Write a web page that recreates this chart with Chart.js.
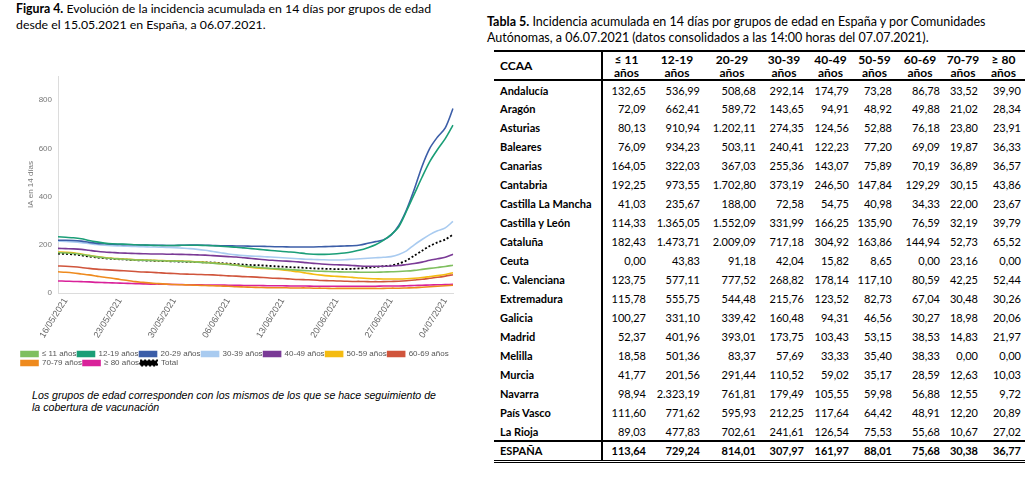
<!DOCTYPE html>
<html>
<head>
<meta charset="utf-8">
<script src="https://cdn.jsdelivr.net/npm/chart.js@4.4.1/dist/chart.umd.min.js"></script>
<style>
  body { margin:0; width:1029px; height:481px; background:#fff; position:relative; overflow:hidden; font-family:Lato, sans-serif; color:#000; }
  .fig-title { position:absolute; left:16px; top:1px; font-size:12.3px; line-height:16px; }
  .tab-title { position:absolute; left:487px; top:14px; font-size:12.5px; line-height:16px; }
  #chartBox { position:absolute; left:0; top:60px; width:470px; height:322px; }
  .note { position:absolute; left:32px; top:389px; font:italic 10.6px "Liberation Sans", Arial, sans-serif; line-height:12px; }
  table { position:absolute; left:494px; top:50px; border-collapse:collapse; table-layout:fixed; width:531px; font-size:11px; }
  table td, table th { padding:0; white-space:nowrap; }
  thead tr { height:29px; border-top:2px solid #000; border-bottom:2px solid #000; }
  thead th { font-weight:bold; text-align:center; line-height:13px; font-size:12px; }
  tbody tr { height:19px; }
  td.nom, th.nom { text-align:left; padding-left:6px; font-weight:bold; border-right:2px solid #000; }
  td.num { text-align:right; padding-right:4px; }
  tr.total { border-top:2px solid #000; border-bottom:3px double #000; height:20px; }
  tr.total td { font-weight:bold; }
</style>
</head>
<body>

<div class="fig-title"><b>Figura 4.</b> Evolución de la incidencia acumulada en 14 días por grupos de edad<br>desde el 15.05.2021 en España, a 06.07.2021.</div>
<div id="chartBox"><canvas id="myChart" width="470" height="322"></canvas></div>
<div class="note">Los grupos de edad corresponden con los mismos de los que se hace seguimiento de<br>la cobertura de vacunación</div>

<div class="tab-title"><b>Tabla 5.</b> Incidencia acumulada en 14 días por grupos de edad en España y por Comunidades<br>Autónomas, a 06.07.2021 (datos consolidados a las 14:00 horas del 07.07.2021).</div>
<table id="tabla"></table>

<script>
// fechas del grafico (15/05 al 05/07)
var fechas = ['15/05/2021','16/05/2021','17/05/2021','18/05/2021','19/05/2021','20/05/2021','21/05/2021',
  '22/05/2021','23/05/2021','24/05/2021','25/05/2021','26/05/2021','27/05/2021','28/05/2021',
  '29/05/2021','30/05/2021','31/05/2021','01/06/2021','02/06/2021','03/06/2021','04/06/2021',
  '05/06/2021','06/06/2021','07/06/2021','08/06/2021','09/06/2021','10/06/2021','11/06/2021',
  '12/06/2021','13/06/2021','14/06/2021','15/06/2021','16/06/2021','17/06/2021','18/06/2021',
  '19/06/2021','20/06/2021','21/06/2021','22/06/2021','23/06/2021','24/06/2021','25/06/2021',
  '26/06/2021','27/06/2021','28/06/2021','29/06/2021','30/06/2021','01/07/2021','02/07/2021',
  '03/07/2021','04/07/2021','05/07/2021'];

var grupos = ['≤ 11 años','12-19 años','20-29 años','30-39 años','40-49 años','50-59 años','60-69 años','70-79 años','≥ 80 años','Total'];
var colores = ['#7fbf5f','#1b9e77','#3c5ea8','#a9cbf0','#7a3a96','#f4bb12','#d0553c','#ee8a1e','#d9229a','#000000'];

var ia_11 = [167,166,164,160,155,150,146,143,141,139,137,136,135,134,133,132,131,130,128,126,124,121,118,115,112,109,106,103,101,99,97,95,93,91,90,89,88,87,87,86,86,86,87,88,89,91,94,98,102,106,110,115];
var ia_12_19 = [233,231,229,225,218,212,207,204,203,202,200,199,198,197,197,197,198,198,198,197,196,194,192,190,187,184,181,178,175,172,170,167,163,161,160,161,163,166,171,178,188,200,218,242,275,340,410,480,545,595,640,696];
var ia_20_29 = [219,219,218,215,210,206,204,202,201,200,200,199,198,198,197,197,198,199,199,198,197,196,196,195,195,194,194,193,192,192,191,191,191,191,192,193,194,195,196,199,206,213,220,240,280,345,430,525,600,647,685,765];
var ia_30_39 = [215,214,212,209,205,201,198,196,195,194,193,192,191,190,189,188,186,184,181,177,172,167,162,158,155,153,152,150,148,146,144,142,140,139,138,137,137,138,140,142,144,146,148,151,160,175,200,222,242,258,270,297];
var ia_40_49 = [185,184,183,181,177,173,170,168,166,165,164,163,162,162,161,161,160,159,158,157,155,153,151,149,146,143,140,137,135,133,131,129,126,123,120,118,117,116,114,112,111,111,111,112,114,118,122,128,136,142,148,161];
var ia_50_59 = [170,169,167,162,156,151,147,144,142,140,138,137,136,135,134,133,132,131,129,127,125,122,119,116,110,106,103,101,99,96,92,88,83,78,74,71,69,67,65,62,60,59,58,58,58,59,61,64,68,72,77,84];
var ia_60_69 = [112,111,109,106,102,99,97,95,93,91,89,87,86,84,82,81,79,78,77,76,75,73,71,70,68,67,65,63,61,60,58,56,55,54,52,51,50,49,48,48,47,47,47,48,49,51,54,57,61,65,70,76];
var ia_70_79 = [88,86,83,79,75,70,65,61,56,52,47,44,41,39,37,35,34,33,32,31,30,29,28,26,25,24,23,22,22,22,21,21,21,20,20,19,19,19,19,19,19,19,19,20,20,21,22,24,26,28,30,32];
var ia_80 = [50,49,48,47,46,44,43,42,41,40,39,38,37,37,36,35,35,34,34,33,33,33,32,32,31,31,31,30,30,30,29,29,29,28,28,28,28,28,28,28,28,28,29,29,29,30,31,32,33,34,35,36];
var ia_total = [163,162,160,156,151,147,144,142,140,138,136,135,134,133,132,131,130,129,128,127,126,124,122,120,118,116,115,113,111,109,107,106,104,102,101,100,99,99,100,102,105,108,111,114,122,135,155,175,195,210,222,242];

var yTicks = [0, 200, 400, 600, 800];

// tabla 5
var ccaa = ['Andalucía','Aragón','Asturias','Baleares','Canarias','Cantabria','Castilla La Mancha','Castilla y León','Cataluña','Ceuta','C. Valenciana','Extremadura','Galicia','Madrid','Melilla','Murcia','Navarra','País Vasco','La Rioja'];
var columnas = ['≤ 11','12-19','20-29','30-39','40-49','50-59','60-69','70-79','≥ 80'];
var anchos = [108,48,54,56,48,45,43,48,38,43];
var t_11 = [132.65,72.09,80.13,76.09,164.05,192.25,41.03,114.33,182.43,0,123.75,115.78,100.27,52.37,18.58,41.77,98.94,111.60,89.03];
var t_12_19 = [536.99,662.41,910.94,934.23,322.03,973.55,235.67,1365.05,1473.71,43.83,577.11,555.75,331.10,401.96,501.36,201.56,2323.19,771.62,477.83];
var t_20_29 = [508.68,589.72,1202.11,503.11,367.03,1702.80,188.00,1552.09,2009.09,91.18,777.52,544.48,339.42,393.01,83.37,291.44,761.81,595.93,702.61];
var t_30_39 = [292.14,143.65,274.35,240.41,255.36,373.19,72.58,331.99,717.18,42.04,268.82,215.76,160.48,173.75,57.69,110.52,179.49,212.25,241.61];
var t_40_49 = [174.79,94.91,124.56,122.23,143.07,246.50,54.75,166.25,304.92,15.82,178.14,123.52,94.31,103.43,33.33,59.02,105.55,117.64,126.54];
var t_50_59 = [73.28,48.92,52.88,77.20,75.89,147.84,40.98,135.90,163.86,8.65,117.10,82.73,46.56,53.15,35.40,35.17,59.98,64.42,75.53];
var t_60_69 = [86.78,49.88,76.18,69.09,70.19,129.29,34.33,76.59,144.94,0,80.59,67.04,30.27,38.53,38.33,28.59,56.88,48.91,55.68];
var t_70_79 = [33.52,21.02,23.80,19.87,36.89,30.15,22.00,32.19,52.73,23.16,42.25,30.48,18.98,14.83,0,12.63,12.55,12.20,10.67];
var t_80 = [39.90,28.34,23.91,36.33,36.57,43.86,23.67,39.79,65.52,0,52.44,30.26,20.06,21.97,0,10.03,9.72,20.89,27.02];
var espana = [113.64,729.24,814.01,307.97,161.97,88.01,75.68,30.38,36.77];

function fmt(v) {
  var p = v.toFixed(2).split('.');
  return p[0].replace(/\B(?=(\d{3})+(?!\d))/g, '.') + ',' + p[1];
}

function tabla() {
  var cols = [t_11, t_12_19, t_20_29, t_30_39, t_40_49, t_50_59, t_60_69, t_70_79, t_80];
  var html = '<colgroup>';
  for (var a = 0; a < anchos.length; a++) html += '<col style="width:' + anchos[a] + 'px">';
  html += '</colgroup><thead><tr><th class="nom">CCAA</th>';
  for (var c = 0; c < columnas.length; c++) html += '<th>' + columnas[c] + '<br>años</th>';
  html += '</tr></thead><tbody>';
  for (var i = 0; i < ccaa.length; i++) {
    html += '<tr><td class="nom">' + ccaa[i] + '</td>';
    for (var j = 0; j < cols.length; j++) html += '<td class="num">' + fmt(cols[j][i]) + '</td>';
    html += '</tr>';
  }
  html += '<tr class="total"><td class="nom">ESPAÑA</td>';
  for (var k = 0; k < espana.length; k++) html += '<td class="num">' + fmt(espana[k]) + '</td>';
  html += '</tr></tbody>';
  document.getElementById('tabla').innerHTML = html;
}

function graph() {
  var series = [ia_11, ia_12_19, ia_20_29, ia_30_39, ia_40_49, ia_50_59, ia_60_69, ia_70_79, ia_80, ia_total];
  var datasets = [];
  for (var i = 0; i < series.length; i++) {
    datasets.push({
      label: grupos[i],
      data: series[i],
      borderColor: colores[i],
      backgroundColor: colores[i],
      borderWidth: i == 9 ? 1.8 : 1.6,
      borderDash: i == 9 ? [2, 2] : [],
      pointRadius: 0,
      tension: 0.3
    });
  }
  const ctx = document.getElementById('myChart');
  new Chart(ctx, {
    type: 'line',
    data: { labels: fechas, datasets: datasets },
    options: {
      responsive: false,
      animation: false,
      layout: { padding: { left: 20, right: 17, top: 16, bottom: 5 } },
      plugins: {
        tooltip: { enabled: false },
        legend: {
          position: 'bottom',
          align: 'start',
          labels: { boxWidth: 17, boxHeight: 5, padding: 1, color: '#555', font: { size: 8, family: 'Liberation Sans' } }
        }
      },
      scales: {
        x: {
          grid: { drawOnChartArea: false, drawTicks: false },
          border: { color: '#dcdcdc' },
          ticks: {
            autoSkip: false, minRotation: 58, maxRotation: 58, padding: 3,
            color: '#666', font: { size: 9, family: 'Liberation Sans' },
            callback: function(val, i) { return i % 7 == 1 ? this.getLabelForValue(val) : null; }
          },
          afterFit: function(s) { s.height = 56; }
        },
        y: {
          min: 0, max: 900,
          grid: { drawOnChartArea: false, drawTicks: false },
          border: { color: '#dcdcdc' },
          title: { display: true, text: 'IA en 14 días', color: '#777', font: { size: 8, family: 'Liberation Sans' }, padding: { top: 6, bottom: 0 } },
          ticks: { stepSize: 200, padding: 6, color: '#777', font: { size: 8, family: 'Liberation Sans' } },
          afterBuildTicks: function(s) { s.ticks = yTicks.map(function(v) { return { value: v }; }); },
          afterFit: function(s) { s.width = 38; }
        }
      }
    }
  });
}

tabla();
graph();
</script>
</body>
</html>
